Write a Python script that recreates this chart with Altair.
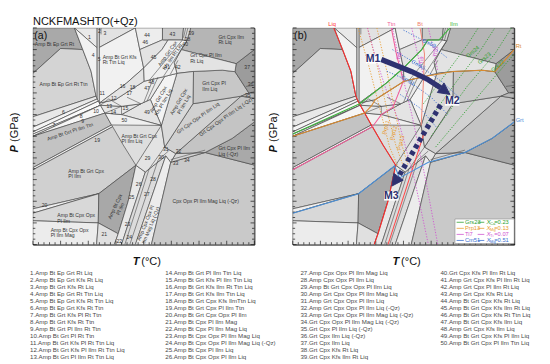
import altair as alt
import pandas as pd

W, H = 231, 226
FONT = "Liberation Sans"
NAVY = "#2e3170"

# ---------------- field-boundary vertices (T in °C, P in GPa) ----------------
VX = {
    "TL": (600, 1.2), "BL": (600, 0.2), "BR": (1000, 0.2), "TR": (1000, 1.2),
    "Q0": (675, 1.2), "Q1": (690, 1.10), "Q2": (705, 1.0), "Q3": (714, 0.885),
    "Vb": (716, 0.872), "K": (718, 0.862), "Wb": (720, 0.853), "K2": (722, 0.843),
    "K3": (730, 0.807), "Q4": (742, 0.752), "Q4b": (744, 0.744), "Q5": (763, 0.66),
    "Q6": (786, 0.566), "Q7": (772, 0.40), "Q8": (754, 0.25), "Q9": (747, 0.2),
    "E1": (650, 1.105), "L99": (600, 0.99), "L79": (600, 0.79), "L742": (600, 0.742),
    "L72": (600, 0.72), "L71": (600, 0.71), "L70": (600, 0.70), "L555": (600, 0.555),
    "L545": (600, 0.545), "L365": (600, 0.365), "L345": (600, 0.345), "L31": (600, 0.31),
    "V0": (716, 1.2), "V1": (716, 1.108), "W0": (720, 1.2), "W1": (720, 1.11),
    "J": (719, 0.435), "J2": (718, 0.30), "B715": (715, 0.2),
    "A1": (785, 1.2), "A2": (834, 1.2), "A3": (872, 1.2), "A4": (885, 1.2),
    "B1": (793, 1.10), "B2": (834, 1.145), "B3": (870, 1.144), "B4": (878, 1.14),
    "D1": (800, 1.015), "G1": (769, 0.945), "G3": (833, 1.10), "G4": (844, 1.144),
    "R1": (749, 0.869), "R2": (801, 0.954), "R3": (838, 0.976), "R4": (890, 0.999),
    "R5": (942, 1.005), "R6": (965, 0.998), "RR": (1000, 1.10),
    "H2": (832, 0.75), "X1": (760, 0.80), "X2": (795, 0.85), "X3": (812, 0.87), "X4": (760, 0.838),
    "F1": (860, 0.99), "F3": (889, 0.85), "F4": (838, 0.65),
    "C37": (967, 1.035), "C868": (868, 1.10), "C855": (855, 1.04),
    "S1": (976, 0.885), "S2": (990, 0.90), "S3": (1000, 0.905), "S4": (1000, 0.875),
    "Z1": (858, 0.62), "Z2": (911, 0.625), "Z3": (960, 0.69), "Z4": (1000, 0.766),
    "Z5": (1000, 0.567), "Z6": (849, 0.58), "Z7": (814, 0.2),
    "La0": (760, 0.2), "La1": (803, 0.535), "Ld0": (785, 0.2), "Ld1": (840, 0.61),
}

# (field, grey shade, vertex names)
FIELDS = [
    ("EpRt", "#a9a9a9", ["TL", "Q0", "Q1", "E1", "L99"]),
    ("EpRtTtn", "#d4d4d4", ["L99", "E1", "Q1", "Q2", "Q3", "L79"]),
    ("f1", "#e9e9e9", ["Q0", "V0", "V1"]),
    ("f4", "#f2f2f2", ["Q0", "V1", "Vb", "Q3", "Q2", "Q1"]),
    ("f5", "#e6e6e6", ["V0", "W0", "Wb", "K", "Vb"]),
    ("f3", "#e2e2e2", ["W0", "A1", "W1"]),
    ("KfsRtTtnLiq", "#f1f1f1", ["W1", "A1", "B1", "D1", "G1", "Wb"]),
    ("f6", "#e8e8e8", ["L79", "Q3", "Vb", "L742"]),
    ("f7", "#f4f4f4", ["L742", "Vb", "K", "L72"]),
    ("f8", "#fafafa", ["L72", "K", "K2", "L71"]),
    ("f9", "#ececec", ["L71", "K2", "L70"]),
    ("f10", "#f6f6f6", ["L70", "K2", "K3"]),
    ("PlIlmTtn", "#c3c3c3", ["L70", "K3", "Q4", "L555"]),
    ("f19", "#f2f2f2", ["L555", "Q4", "Q4b", "L545"]),
    ("GrtCpxPlIlm", "#d0d0d0", ["L545", "Q4b", "Q5", "Q6", "J", "L365"]),
    ("f20", "#efefef", ["L365", "J", "L345"]),
    ("CpxOpxPlIlm", "#d8d8d8", ["L345", "J", "J2", "L31"]),
    ("Mag", "#ececec", ["L31", "J2", "B715", "BL"]),
    ("AmpBtCpxPlIlm", "#a8a8a8", ["J", "Q6", "Q7", "Q8", "J2"]),
    ("f21", "#e0e0e0", ["J2", "Q8", "Q9", "B715"]),
    ("f25", "#e8e8e8", ["Q9", "La0", "La1", "Q6", "Q7", "Q8"]),
    ("bandLaLd", "#dcdcdc", ["La0", "Ld0", "Ld1", "La1"]),
    ("AmpCpxOpxMagQz", "#ececec", ["Ld0", "Z7", "Z6", "Ld1"]),
    ("CpxOpxMagQz", "#c9c9c9", ["Z7", "BR", "Z5", "Z2", "Z6"]),
    ("GrtCpxPlIlmLiqQz", "#a9a9a9", ["Z2", "Z5", "Z4", "Z3"]),
    ("f33", "#d6d6d6", ["Z6", "Z2", "Z1"]),
    ("GrtCpxOpxQz", "#c4c4c4", ["Z1", "Z2", "Z3", "Z4", "S4", "S1"]),
    ("f29", "#e3e3e3", ["Q6", "La1", "Ld1", "Z6", "Z1", "F4", "H2"]),
    ("GrtCpxOpx", "#d1d1d1", ["F4", "F3", "S1", "Z1"]),
    ("GrtCpxPlIlmLiq", "#c7c7c7", ["R4", "R5", "R6", "S2", "S1", "F3"]),
    ("f35", "#b8b8b8", ["S1", "S2", "S3", "S4"]),
    ("f37", "#9c9c9c", ["R6", "C37", "RR", "S3", "S2"]),
    ("GrtCpxIlmRtLiq", "#b5b5b5", ["A4", "TR", "RR", "C37", "C868", "B4"]),
    ("GrtCpxPlIlmRtLiq", "#e3e3e3", ["C868", "C37", "R6", "R5", "R4", "F1", "C855"]),
    ("AmpGrtCpxPlIlmLiq", "#d9d9d9", ["H2", "F4", "F3", "R4", "F1"]),
    ("AmpGrtCpxKfsPlIlmLiq", "#f3f3f3", ["H2", "F1", "R3", "X3"]),
    ("f49", "#e4e4e4", ["X1", "H2", "X3", "X2"]),
    ("f50", "#f0f0f0", ["K3", "Q4", "H2", "X1"]),
    ("f15", "#e6e6e6", ["K2", "K3", "X1", "X2", "X4"]),
    ("f17", "#ebebeb", ["Wb", "K2", "X4", "X2", "X3", "R3", "R2", "R1"]),
    ("f16", "#e4e4e4", ["Wb", "R1", "R2", "D1", "G1"]),
    ("f44", "#ededed", ["A1", "A2", "B2", "B1"]),
    ("f46", "#e3e3e3", ["B1", "B2", "G4", "G3", "D1"]),
    ("f43", "#cbcbcb", ["A2", "A3", "B3", "B2"]),
    ("f38", "#dddddd", ["A3", "A4", "B4", "B3"]),
    ("RtIlmBand", "#efefef", ["D1", "G3", "G4", "B3", "B4", "C868", "C855", "F1", "R3", "R2"]),
]

# thin internal boundaries of the small fields
EXTRA_LINES = [
    [(723, 1.2), (723, 1.17)],
    [(722, 0.843), (737, 0.872), (760, 0.838)],
    [(730, 0.807), (760, 0.838)],
    [(760, 0.838), (760, 0.80)],
    [(770, 0.88), (795, 0.85)],
    [(800, 0.855), (818, 0.97)],
    [(806, 0.862), (826, 0.973)],
    [(766, 0.2), (810, 0.55)],
    [(775, 0.2), (826, 0.59)],
    [(810, 0.55), (838, 0.65)],
    [(826, 0.59), (845, 0.632)],
    [(849, 0.592), (911, 0.636)],
    [(810, 0.958), (870, 1.144)],
    [(836, 0.977), (878, 1.14)],
    [(848, 0.985), (862, 1.05)],
    [(876, 1.2), (872, 1.155)],
    [(880, 1.2), (874, 1.142)],
    [(985, 0.93), (1000, 0.935)],
]

# ---------------- panel (a) field labels ----------------
# (text, T, P, angle, align)
LABELS_A = [
    ("Amp Bt Ep Grt Rt", 603.5, 1.125, 0, "left"),
    ("Amp Bt Ep Grt Rt Ttn", 612, 0.943, 0, "left"),
    ("1", 702, 1.156, 0, "center"), ("2", 720, 1.185, 0, "center"), ("3", 730, 1.175, 0, "center"),
    ("4", 709, 1.076, 0, "center"), ("5", 719.5, 1.054, 0, "center"),
    ("Amp Bt Grt Kfs\nRt Ttn Liq", 726, 1.067, 0, "left"),
    ("46", 803, 1.134, 0, "center"), ("44", 806, 1.168, 0, "center"), ("43", 852, 1.172, 0, "center"),
    ("38", 879, 1.15, 0, "center"), ("39", 886, 1.178, 0, "center"), ("40", 875, 1.127, 0, "center"),
    ("45", 818, 1.066, 0, "center"),
    ("Amp Grt Cpx\nKfs Ilm Rt Liq", 843, 1.082, 305, "center"),
    ("Grt Cpx Ilm\nRt Liq", 935, 1.16, 0, "left"),
    ("Grt Cpx Pl Ilm\nRt Liq", 884, 1.074, 0, "left"),
    ("41", 842.5, 1.02, 0, "center"), ("42", 861.5, 1.02, 0, "center"), ("37", 987, 1.02, 0, "center"),
    ("16", 762, 0.93, 0, "center"), ("48", 814, 0.95, 0, "center"), ("18", 780, 0.925, 0, "center"),
    ("47", 806, 0.921, 0, "center"), ("17", 774, 0.897, 0, "center"), ("11", 725, 0.9, 0, "center"),
    ("12", 746, 0.878, 0, "center"),
    ("Grt Cpx Pl\nIlm Liq", 906, 0.946, 0, "left"),
    ("36", 993, 0.943, 0, "center"), ("35", 988, 0.89, 0, "center"),
    ("Amp Grt Cpx\nKfs Pl Ilm Liq", 826, 0.87, 300, "center"),
    ("Amp Grt Cpx\nPl Ilm Liq", 863, 0.86, 300, "center"),
    ("6", 655, 0.81, 0, "center"), ("8", 687, 0.792, 0, "center"), ("9", 690, 0.771, 0, "center"),
    ("7", 638, 0.752, 0, "center"), ("10", 714, 0.818, 0, "center"), ("13", 738, 0.84, 0, "center"),
    ("14", 745, 0.813, 0, "center"), ("15", 767, 0.832, 0, "center"), ("49", 806, 0.81, 0, "center"),
    ("50", 765, 0.776, 0, "center"),
    ("Grt Cpx Opx Pl Ilm Liq", 898, 0.785, 325, "center"),
    ("Grt Cpx Opx Pl Ilm Liq (-Qz)", 948, 0.79, 325, "center"),
    ("Amp Bt Grt Pl Ilm Ttn", 667, 0.722, 342, "center"),
    ("Amp Bt Grt Cpx\nPl Ilm Liq", 760, 0.703, 0, "left"),
    ("19", 716, 0.682, 0, "center"),
    ("Grt Cpx Pl Ilm\nLiq (-Qz)", 935, 0.645, 0, "left"),
    ("Amp Bt Grt Cpx\nPl Ilm", 664, 0.541, 0, "left"),
    ("31", 840, 0.641, 0, "center"), ("32", 863, 0.63, 0, "center"), ("29", 807, 0.597, 0, "center"),
    ("30", 831.5, 0.605, 0, "center"), ("33", 857.5, 0.575, 0, "center"), ("34", 878, 0.59, 0, "center"),
    ("26", 791, 0.479, 0, "center"), ("28", 817, 0.501, 0, "center"), ("27", 805.6, 0.434, 0, "center"),
    ("25", 778, 0.42, 0, "center"),
    ("Amp Bt Cpx\nPl Ilm", 748, 0.376, 295, "center"),
    ("Cpx Opx Pl Ilm Mag Liq (-Qz)", 912, 0.40, 0, "center"),
    ("20", 621, 0.383, 0, "center"),
    ("Amp Bt Cpx Opx\nPl Ilm", 644, 0.335, 0, "left"),
    ("Amp Cpx Opx Pl\nIlm Mag Liq (-Qz)", 803, 0.30, 292, "center"),
    ("Amp Bt Cpx Opx\nPl Ilm Mag", 632, 0.269, 0, "left"),
    ("21", 729, 0.25, 0, "center"), ("22", 756, 0.218, 0, "center"), ("23", 771, 0.294, 0, "center"),
    ("24", 774, 0.235, 0, "center"),
]

# ---------------- panel (b) phase lines & isopleths ----------------
PHASE_LINES = [
    ("#ff2b2b", [(674, 1.2), (690, 1.10), (705, 1.0), (714, 0.885), (718, 0.862), (742, 0.752),
                 (763, 0.66), (786, 0.566), (772, 0.40), (754, 0.25), (747, 0.2)]),
    ("#ff4a4a", [(772, 0.2), (838, 0.72)]),
    ("#f0609a", [(600, 0.545), (744, 0.744), (760, 0.80), (781, 0.834), (800, 0.955), (788, 1.07), (778, 1.2)]),
    ("#f08c7c", [(830, 1.2), (838, 1.08), (836, 0.95), (832, 0.75)]),
    ("#3cb43c", [(600, 0.71), (721, 0.85), (769, 0.945), (800, 1.015), (833, 1.10), (844, 1.144),
                 (864, 1.144), (884, 1.2)]),
    ("#d98a2e", [(600, 0.70), (730, 0.807), (742, 0.84), (749, 0.869), (801, 0.954), (838, 0.976),
                 (890, 0.999), (942, 1.005), (965, 0.998), (1000, 1.10)]),
    ("#4a90d9", [(600, 0.345), (719, 0.435), (784, 0.563), (793, 0.508), (845, 0.58), (911, 0.625),
                 (960, 0.69), (1000, 0.766)]),
]
GRS_LINES = [[(836, 0.85), (880, 1.0), (915, 1.12), (935, 1.2)],
             [(842, 0.76), (895, 0.95), (940, 1.1), (965, 1.2)],
             [(850, 0.70), (915, 0.93), (965, 1.08), (995, 1.2)],
             [(858, 0.65), (940, 0.90), (1000, 1.08)]]
PRP_LINES = [[(718, 1.2), (740, 1.0), (760, 0.8), (775, 0.65), (790, 0.56)],
             [(735, 1.2), (755, 1.0), (772, 0.8), (786, 0.66), (800, 0.56)],
             [(752, 1.2), (770, 1.0), (786, 0.8), (797, 0.66), (808, 0.57)]]
TI_LINES = [[(735, 1.2), (750, 1.06), (768, 0.92), (790, 0.78), (820, 0.5), (845, 0.2)],
            [(780, 1.2), (790, 1.08), (800, 0.96), (815, 0.80), (840, 0.50), (862, 0.2)],
            [(815, 1.2), (828, 1.05), (840, 0.95)],
            [(845, 1.2), (856, 1.08), (862, 1.0)]]
CM_LINES = [[(800, 1.19), (845, 1.13), (880, 1.06)],
            [(780, 1.10), (827, 1.03), (870, 0.95), (900, 0.88)],
            [(770, 1.0), (806, 0.96), (850, 0.88), (880, 0.80)],
            [(790, 0.9), (830, 0.83), (860, 0.74)]]
ISO_COLORS = {"grs": "#2ca02c", "prp": "#e89a2c", "ti": "#cf52cf", "cm": "#3a6fd0"}

ISO_LABELS = [
    ("Grs24", 925, 1.09, 320, "grs"), ("Grs23", 946, 1.06, 320, "grs"), ("Grs22", 970, 1.025, 320, "grs"),
    ("Prp11", 768, 0.74, 285, "prp"), ("Prp12", 782, 0.715, 285, "prp"), ("Prp13", 795, 0.67, 285, "prp"),
    ("Ti7", 752, 1.06, 290, "ti"), ("Ti8", 792, 1.07, 285, "ti"), ("Ti9", 832, 1.05, 280, "ti"),
    ("Ti10", 858, 1.09, 280, "ti"),
    ("Cm59", 846, 1.13, 25, "cm"), ("Cm55", 827, 1.03, 30, "cm"), ("Cm51", 808, 0.958, 30, "cm"),
]

TOP_LABELS = [("Liq", 671, "#ff3030"), ("Ttn", 778, "#f0609a"), ("Bt", 830, "#f08070"), ("Ilm", 891, "#3cb43c")]
RIGHT_LABELS = [("Rt", 1.115, "#d98a2e"), ("Grt", 0.775, "#4a90d9")]

M_LABELS = [("M1", 745, 1.056), ("M2", 888, 0.862), ("M3", 778, 0.424)]
M1_SHAFT = [(760, 1.054), (786, 1.028), (815, 0.998), (844, 0.962), (867, 0.924)]
M1_HEAD = [(884, 0.893), (873.2, 0.946), (861.2, 0.902)]
M23_SHAFT = [(867, 0.845), (791, 0.513)]
M23_HEAD = [(779, 0.47), (799.5, 0.4975), (782.7, 0.5285)]

LEG_NAMES = ["Grs23", "Prp13", "Ti7", "Cm51"]
LEG_KEYS = ["grs", "prp", "ti", "cm"]
LEG_SUB = ["Ca", "Mg", "Ti", "Mg"]
LEG_VAL = ["=0.23", "=0.13", "=0.07", "=0.51"]
LEG_P = [0.303, 0.275, 0.247, 0.219]

ASSEMBLAGES = [
    "1.Amp Bt Ep Grt Rt Liq", "2.Amp Bt Ep Grt Kfs Rt Liq", "3.Amp Bt Grt Kfs Rt Liq",
    "4.Amp Bt Ep Grt Rt Ttn Liq", "5.Amp Bt Ep Grt Kfs Rt Ttn Liq", "6.Amp Bt Ep Grt Kfs Rt Ttn",
    "7.Amp Bt Grt Kfs Pl Rt Ttn", "8.Amp Bt Grt Kfs Rt Ttn", "9.Amp Bt Grt Pl Ilm Rt Ttn",
    "10.Amp Bt Grt Pl Rt Ttn", "11.Amp Bt Grt Kfs Pl Rt Ttn Liq", "12.Amp Bt Grt Kfs Pl Ilm Rt Ttn Liq",
    "13.Amp Bt Grt Pl Ilm Rt Ttn Liq",
    "14.Amp Bt Grt Pl Ilm Ttn Liq", "15.Amp Bt Grt Kfs Pl Ilm Ttn Liq", "16.Amp Bt Grt Kfs Ilm Rt Ttn Liq",
    "17.Amp Bt Grt Kfs Ilm Ttn Liq", "18.Amp Bt Grt Cpx Kfs IlmTtn Liq", "19.Amp Bt Grt Cpx Pl Ilm Ttn",
    "20.Amp Bt Grt Cpx Opx Pl Ilm", "21.Amp Bt Cpx Pl Ilm Mag", "22.Amp Bt Cpx Pl Ilm Mag  Liq",
    "23.Amp Bt Cpx Opx Pl Ilm Mag  Liq", "24.Amp Bt Cpx Opx Pl Ilm Mag Liq (-Qz)",
    "25.Amp Bt Cpx Pl Ilm Liq", "26.Amp Bt Cpx Opx Pl Ilm Liq",
    "27.Amp Cpx Opx Pl Ilm Mag Liq", "28.Amp Cpx Opx Pl Ilm Liq", "29.Amp Bt Grt Cpx Opx Pl Ilm Liq",
    "30.Amp Grt Cpx Opx Pl Ilm Mag Liq", "31.Amp Grt Cpx Opx Pl Ilm Liq",
    "32.Amp Grt Cpx Opx Pl Ilm Liq (-Qz)", "33.Amp Grt Cpx Opx Pl Ilm Mag Liq (-Qz)",
    "34.Grt Cpx Opx Pl Ilm Mag Liq (-Qz)", "35.Grt Cpx Pl Ilm Liq (-Qz)", "36.Grt Cpx Ilm Liq (-Qz)",
    "37.Grt Cpx Ilm Liq", "38.Grt Cpx Kfs Rt Liq", "39.Grt Cpx Kfs Ilm Rt Liq",
    "40.Grt Cpx Kfs Pl Ilm Rt Liq", "41.Amp Grt Cpx Kfs Pl Ilm Rt Liq", "42.Amp Grt Cpx Pl Ilm Rt Liq",
    "43.Amp Grt Cpx Kfs Rt Liq", "44.Amp Bt Grt Cpx Kfs Rt Liq", "45.Amp Bt Grt Cpx Kfs Ilm Rt Liq",
    "46.Amp Bt Grt Cpx Kfs Rt Ttn Liq", "47.Amp Bt Grt Cpx Kfs Ilm Liq", "48.Amp Grt Cpx Kfs Ilm Liq",
    "49.Amp Bt Grt Cpx Kfs Pl Ilm Liq", "50.Amp Bt Grt Cpx Pl Ilm Ttn Liq",
]
COL_STARTS = [0, 13, 26, 39]
COL_X = [-3, 138, 279, 425]

X_TICKS = [600, 650, 700, 750, 800, 850, 900, 950, 1000]
Y_TICKS = [0.2, 0.3, 0.4, 0.5, 0.6, 0.7, 0.8, 0.9, 1.0, 1.1, 1.2]

# ---------------- data frames ----------------
poly_rows = []
for k, (name, shade, vs) in enumerate(FIELDS):
    for i, v in enumerate(vs + [vs[0]]):
        poly_rows.append({"poly": k, "i": i, "T": VX[v][0], "P": VX[v][1], "shade": shade})
poly_df = pd.DataFrame(poly_rows)


def lines_df(lines, colors=None):
    rows = []
    for k, pts in enumerate(lines):
        for i, (t, p) in enumerate(pts):
            r = {"line": k, "i": i, "T": t, "P": p}
            if colors is not None:
                r["col"] = colors[k]
            rows.append(r)
    return pd.DataFrame(rows)


extra_df = lines_df(EXTRA_LINES)
phase_df = lines_df([p for _, p in PHASE_LINES], [c for c, _ in PHASE_LINES])
iso_sets = [("grs", GRS_LINES), ("prp", PRP_LINES), ("ti", TI_LINES), ("cm", CM_LINES)]
iso_lines, iso_cols = [], []
for key, ls in iso_sets:
    for l in ls:
        iso_lines.append(l)
        iso_cols.append(ISO_COLORS[key])
iso_df = lines_df(iso_lines, iso_cols)

xsc = alt.Scale(domain=[600, 1000], nice=False, zero=False)
ysc = alt.Scale(domain=[0.2, 1.2], nice=False, zero=False)
xax = alt.Axis(values=X_TICKS, format="d", title=None, ticks=False, domain=False, grid=False,
               labelFont=FONT, labelFontSize=9.5, labelColor="#111", labelPadding=3,
               labelFlush=False, labelOverlap=False)
yax = alt.Axis(values=Y_TICKS, format=".1f", title=None, ticks=False, domain=False, grid=False,
               labelFont=FONT, labelFontSize=9.5, labelColor="#111", labelPadding=3,
               labelFlush=False, labelOverlap=False)


def X():
    return alt.X("T:Q", scale=xsc, axis=None)


def Y():
    return alt.Y("P:Q", scale=ysc, axis=None)


def common_layers():
    fields = alt.Chart(poly_df).mark_line(stroke="#4a4a4a", strokeWidth=0.7, strokeJoin="round", clip=True).encode(
        x=alt.X("T:Q", scale=xsc, axis=xax), y=alt.Y("P:Q", scale=ysc, axis=yax),
        detail="poly:N", order="i:Q", fill=alt.Fill("shade:N", scale=None))
    extra = alt.Chart(extra_df).mark_line(stroke="#4a4a4a", strokeWidth=0.6, clip=True).encode(
        x=X(), y=Y(), detail="line:N", order="i:Q")
    xt_major = pd.DataFrame({"T": [t for t in range(600, 1001, 50)]})
    xt_minor = pd.DataFrame({"T": [t for t in range(610, 1000, 10) if t % 50]})
    yt_major = pd.DataFrame({"P": Y_TICKS})
    yt_minor = pd.DataFrame({"P": [round(0.2 + 0.025 * k, 3) for k in range(1, 40) if k % 4]})
    tk = []
    for df, ln in ((xt_major, 4), (xt_minor, 2.5)):
        tk.append(alt.Chart(df).mark_rule(color="#111", strokeWidth=0.7).encode(
            x=X(), y=alt.value(H), y2=alt.value(H - ln)))
    for df, ln in ((yt_major, 4), (yt_minor, 2.5)):
        tk.append(alt.Chart(df).mark_rule(color="#111", strokeWidth=0.7).encode(
            y=Y(), x=alt.value(0), x2=alt.value(ln)))
        tk.append(alt.Chart(df).mark_rule(color="#111", strokeWidth=0.7).encode(
            y=Y(), x=alt.value(W), x2=alt.value(W - ln)))
    one = pd.DataFrame({"a": [1]})
    titles = [
        alt.Chart(one).mark_text(text="T", font=FONT, fontSize=11.5, fontStyle="italic", fontWeight="bold",
                                 align="left", baseline="alphabetic", color="#111").encode(
            x=alt.value(104), y=alt.value(H + 21)),
        alt.Chart(one).mark_text(text="(°C)", font=FONT, fontSize=11.5, align="left",
                                 baseline="alphabetic", color="#111").encode(
            x=alt.value(113), y=alt.value(H + 21)),
        alt.Chart(one).mark_text(text="P", font=FONT, fontSize=11.5, fontStyle="italic", fontWeight="bold",
                                 align="left", baseline="alphabetic", angle=270, color="#111").encode(
            x=alt.value(-16), y=alt.value(130)),
        alt.Chart(one).mark_text(text="(GPa)", font=FONT, fontSize=11.5, align="left",
                                 baseline="alphabetic", angle=270, color="#111").encode(
            x=alt.value(-16), y=alt.value(119)),
    ]
    return [fields, extra] + tk + titles


one = pd.DataFrame({"a": [1]})

# ---------------- panel (a) ----------------
lab_df = pd.DataFrame(LABELS_A, columns=["txt", "T", "P", "ang", "al"])
lab_layers = []
for al in ("left", "center"):
    sub = lab_df[lab_df["al"] == al]
    lab_layers.append(alt.Chart(sub).mark_text(font=FONT, fontSize=5.3, color="#333", align=al,
                                               baseline="middle", lineBreak="\n", lineHeight=6).encode(
        x=X(), y=Y(), text="txt:N", angle=alt.Angle("ang:Q", scale=None)))

title_a = alt.Chart(one).mark_text(text="NCKFMASHTO(+Qz)", font=FONT, fontSize=11.5, color="#111",
                                   align="left", baseline="alphabetic").encode(x=alt.value(0), y=alt.value(-3))
tag_a = alt.Chart(pd.DataFrame({"T": [602.5], "P": [1.148], "t": ["(a)"]})).mark_text(
    font=FONT, fontSize=11, color="#111", align="left", baseline="alphabetic").encode(x=X(), y=Y(), text="t:N")

panel_a = alt.layer(*(common_layers() + lab_layers + [title_a, tag_a])).properties(
    width=W, height=H, view=alt.ViewBackground(stroke="#111", strokeWidth=1, fill="#dedede"))

# ---------------- panel (b) ----------------
phase = alt.Chart(phase_df).mark_line(strokeWidth=1.1, clip=True).encode(
    x=X(), y=Y(), detail="line:N", order="i:Q", color=alt.Color("col:N", scale=None))
iso = alt.Chart(iso_df).mark_line(strokeWidth=0.9, strokeDash=[1.3, 1.6], clip=True).encode(
    x=X(), y=Y(), detail="line:N", order="i:Q", color=alt.Color("col:N", scale=None))
iso_lab_df = pd.DataFrame([(t, x, y, a, ISO_COLORS[k]) for t, x, y, a, k in ISO_LABELS],
                          columns=["txt", "T", "P", "ang", "col"])
iso_lab = alt.Chart(iso_lab_df).mark_text(font=FONT, fontSize=5.8, baseline="middle").encode(
    x=X(), y=Y(), text="txt:N", angle=alt.Angle("ang:Q", scale=None), color=alt.Color("col:N", scale=None))

top_df = pd.DataFrame(TOP_LABELS, columns=["txt", "T", "col"])
top_lab = alt.Chart(top_df).mark_text(font=FONT, fontSize=6, baseline="alphabetic").encode(
    x=X(), y=alt.value(-2), text="txt:N", color=alt.Color("col:N", scale=None))
right_df = pd.DataFrame(RIGHT_LABELS, columns=["txt", "P", "col"])
right_lab = alt.Chart(right_df).mark_text(font=FONT, fontSize=6, align="left", baseline="middle").encode(
    x=alt.value(W + 1.5), y=Y(), text="txt:N", color=alt.Color("col:N", scale=None))

shaft1 = alt.Chart(lines_df([M1_SHAFT])).mark_line(color=NAVY, strokeWidth=5.5, clip=True).encode(
    x=X(), y=Y(), order="i:Q")
head1 = alt.Chart(lines_df([M1_HEAD + [M1_HEAD[0]]])).mark_line(color=NAVY, fill=NAVY, strokeWidth=1).encode(
    x=X(), y=Y(), order="i:Q")
shaft2 = alt.Chart(lines_df([M23_SHAFT])).mark_line(color=NAVY, strokeWidth=5.5, strokeDash=[4.5, 3.5]).encode(
    x=X(), y=Y(), order="i:Q")
head2 = alt.Chart(lines_df([M23_HEAD + [M23_HEAD[0]]])).mark_line(color=NAVY, fill=NAVY, strokeWidth=1).encode(
    x=X(), y=Y(), order="i:Q")

m_df = pd.DataFrame(M_LABELS, columns=["txt", "T", "P"])
m_df["T1"] = m_df["T"] - 13
m_df["T2"] = m_df["T"] + 13
m_df["P1"] = m_df["P"] - 0.021
m_df["P2"] = m_df["P"] + 0.021
m_box = alt.Chart(m_df).mark_rect(color="white", opacity=0.95).encode(
    x=alt.X("T1:Q", scale=xsc, axis=None), x2="T2:Q", y=alt.Y("P1:Q", scale=ysc, axis=None), y2="P2:Q")
m_txt = alt.Chart(m_df).mark_text(font=FONT, fontSize=11, fontWeight="bold", color=NAVY,
                                  baseline="middle").encode(x=X(), y=Y(), text="txt:N")

leg_box = alt.Chart(pd.DataFrame({"T1": [893], "T2": [1000], "P1": [0.205], "P2": [0.318]})).mark_rect(
    fill="white", stroke="#888", strokeWidth=0.6).encode(
    x=alt.X("T1:Q", scale=xsc, axis=None), x2="T2:Q", y=alt.Y("P1:Q", scale=ysc, axis=None), y2="P2:Q")
leg_rows = pd.DataFrame({"name": LEG_NAMES, "sub": LEG_SUB, "val": LEG_VAL, "P": LEG_P,
                         "col": [ISO_COLORS[k] for k in LEG_KEYS]})
leg_seg_rows = []
for _, r in leg_rows.iterrows():
    leg_seg_rows.append({"T": 896, "T2": 909, "P": r["P"], "col": r["col"]})
    leg_seg_rows.append({"T": 934, "T2": 946, "P": r["P"], "col": r["col"]})
leg_seg = alt.Chart(pd.DataFrame(leg_seg_rows)).mark_rule(strokeWidth=0.8).encode(
    x=X(), x2="T2:Q", y=Y(), color=alt.Color("col:N", scale=None))
leg_name = alt.Chart(leg_rows).mark_text(font=FONT, fontSize=6, align="left", baseline="middle").encode(
    x=alt.datum(911, scale=xsc), y=Y(), text="name:N", color=alt.Color("col:N", scale=None))
leg_x = alt.Chart(leg_rows).mark_text(text="X", font=FONT, fontSize=6.5, fontStyle="italic", align="left",
                                      baseline="middle").encode(
    x=alt.datum(950, scale=xsc), y=Y(), color=alt.Color("col:N", scale=None))
leg_sub = alt.Chart(leg_rows).mark_text(font=FONT, fontSize=4.2, align="left", baseline="middle", dy=2).encode(
    x=alt.datum(956.5, scale=xsc), y=Y(), text="sub:N", color=alt.Color("col:N", scale=None))
leg_val = alt.Chart(leg_rows).mark_text(font=FONT, fontSize=6, align="left", baseline="middle").encode(
    x=alt.datum(964, scale=xsc), y=Y(), text="val:N", color=alt.Color("col:N", scale=None))

tag_b = alt.Chart(pd.DataFrame({"T": [602.5], "P": [1.148], "t": ["(b)"]})).mark_text(
    font=FONT, fontSize=11, color="#111", align="left", baseline="alphabetic").encode(x=X(), y=Y(), text="t:N")
ghost = alt.Chart(one).mark_text(text="NCKFMASHTO(+Qz)", font=FONT, fontSize=11.5, opacity=0,
                                 align="left", baseline="alphabetic").encode(x=alt.value(0), y=alt.value(-3))

panel_b = alt.layer(*(common_layers() + [iso, phase, iso_lab, top_lab, right_lab,
                                         shaft1, head1, shaft2, head2, m_box, m_txt,
                                         leg_box, leg_seg, leg_name, leg_x, leg_sub, leg_val,
                                         tag_b, ghost])).properties(
    width=W, height=H, view=alt.ViewBackground(stroke="#111", strokeWidth=1, fill="#dedede"))

# ---------------- assemblage list ----------------
list_rows = []
for c, start in enumerate(COL_STARTS):
    end = COL_STARTS[c + 1] if c + 1 < len(COL_STARTS) else len(ASSEMBLAGES)
    for r, s in enumerate(ASSEMBLAGES[start:end]):
        list_rows.append({"txt": s, "cx": COL_X[c], "row": r})
list_chart = alt.Chart(pd.DataFrame(list_rows)).mark_text(
    font=FONT, fontSize=6.4, color="#4a4a4a", align="left", baseline="middle").encode(
    x=alt.X("cx:Q", scale=alt.Scale(domain=[0, 530], nice=False, zero=False), axis=None),
    y=alt.Y("row:Q", scale=alt.Scale(domain=[-0.5, 12.5], reverse=True, nice=False, zero=False), axis=None),
    text="txt:N").properties(width=530, height=95, view=alt.ViewBackground(stroke="transparent"))

top = alt.hconcat(panel_a, panel_b, spacing=13)
chart = alt.vconcat(top, list_chart, spacing=1).properties(padding=0)
chart.save("out.html", embed_options={"renderer": "svg", "actions": False})
